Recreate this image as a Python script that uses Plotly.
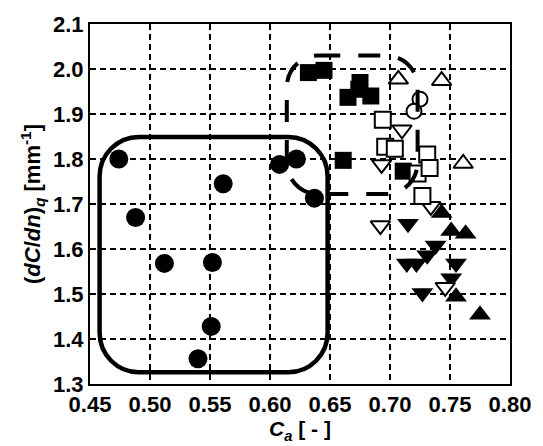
import plotly.graph_objects as go

# ---- data (Ca, (dC/dn)q) ----
fc_x = [0.474, 0.561, 0.488, 0.512, 0.552, 0.551, 0.540, 0.622, 0.608, 0.637]
fc_y = [1.800, 1.745, 1.670, 1.568, 1.570, 1.428, 1.356, 1.800, 1.788, 1.713]

fs_x = [0.632, 0.645, 0.675, 0.665, 0.684, 0.674, 0.661, 0.711]
fs_y = [1.992, 1.997, 1.970, 1.937, 1.940, 1.955, 1.797, 1.773]

otu_x = [0.707, 0.743, 0.761]
otu_y = [1.977, 1.974, 1.790]

oc_x = [0.725, 0.720]
oc_y = [1.933, 1.906]

os_x = [0.694, 0.696, 0.704, 0.731, 0.723, 0.727, 0.733]
os_y = [1.887, 1.827, 1.823, 1.810, 1.768, 1.718, 1.780]

otd_x = [0.710, 0.693, 0.734, 0.692, 0.746]
otd_y = [1.865, 1.788, 1.695, 1.652, 1.515]

ftd_x = [0.715, 0.738, 0.731, 0.714, 0.722, 0.755, 0.751, 0.727]
ftd_y = [1.656, 1.608, 1.586, 1.568, 1.568, 1.568, 1.535, 1.502]

ftu_x = [0.743, 0.751, 0.763, 0.755, 0.775]
ftu_y = [1.680, 1.640, 1.634, 1.494, 1.454]

x_ticks = [0.45, 0.50, 0.55, 0.60, 0.65, 0.70, 0.75, 0.80]
y_ticks = [1.3, 1.4, 1.5, 1.6, 1.7, 1.8, 1.9, 2.0, 2.1]

# grouping boxes (data extents)
solid_box = dict(x0=0.458, x1=0.648, y0=1.326, y1=1.849, r=40)
dashed_box = dict(x0=0.614, x1=0.723, y0=1.722, y1=2.030, r=32)

W, H = 543, 446
M = dict(l=90, r=26, t=21, b=61)
XR = [0.45, 0.80]
YR = [1.3, 2.1]
pw = W - M["l"] - M["r"]
ph = H - M["t"] - M["b"]
sx = pw / (XR[1] - XR[0])
sy = ph / (YR[1] - YR[0])


def rounded_path(b):
    x0, x1, y0, y1, r = b["x0"], b["x1"], b["y0"], b["y1"], b["r"]
    rx, ry = r / sx, r / sy
    k = 0.5523
    p = f"M {x0+rx},{y1} L {x1-rx},{y1} "
    p += f"C {x1-rx+k*rx},{y1} {x1},{y1-ry+k*ry} {x1},{y1-ry} "
    p += f"L {x1},{y0+ry} "
    p += f"C {x1},{y0+ry-k*ry} {x1-rx+k*rx},{y0} {x1-rx},{y0} "
    p += f"L {x0+rx},{y0} "
    p += f"C {x0+rx-k*rx},{y0} {x0},{y0+ry-k*ry} {x0},{y0+ry} "
    p += f"L {x0},{y1-ry} "
    p += f"C {x0},{y1-ry+k*ry} {x0+rx-k*rx},{y1} {x0+rx},{y1} Z"
    return p


fig = go.Figure()

def add(xs, ys, symbol, size, fill, lw=2):
    fig.add_trace(go.Scatter(
        x=xs, y=ys, mode="markers", showlegend=False,
        marker=dict(symbol=symbol, size=size, color=fill,
                    line=dict(color="black", width=lw))))

add(fc_x, fc_y, "circle", 19, "black", 0)
add(fs_x, fs_y, "square", 17, "black", 0)
add(ftd_x, ftd_y, "triangle-down", 19, "black", 0)
add(ftu_x, ftu_y, "triangle-up", 19, "black", 0)
add(otd_x, otd_y, "triangle-down", 17, "white", 2)
add(os_x, os_y, "square", 16, "white", 2)
add(otu_x, otu_y, "triangle-up", 17, "white", 2)
add(oc_x, oc_y, "circle", 15, "white", 2)

fig.add_shape(type="path", path=rounded_path(solid_box), xref="x", yref="y",
              line=dict(color="black", width=4.5), layer="above")
fig.add_shape(type="path", path=rounded_path(dashed_box), xref="x", yref="y",
              line=dict(color="black", width=4, dash="22px,18px"), layer="above")

font = "Liberation Sans, Arial, sans-serif"
axis_common = dict(showline=True, linecolor="black", linewidth=2, mirror=True,
                   showgrid=True, gridcolor="black", gridwidth=1.8,
                   griddash="6px,4px", zeroline=False, ticks="",
                   tickfont=dict(family=font, size=22, color="black",
                                 weight="bold"))

fig.update_xaxes(range=XR, tickvals=x_ticks,
                 ticktext=[f"{v:.2f}" for v in x_ticks],
                 title=dict(text="<i>C</i><sub><i>a</i></sub> [ - ]",
                            font=dict(family=font, size=21, color="black",
                                      weight="bold"),
                            standoff=2),
                 **axis_common)
fig.update_yaxes(range=YR, tickvals=y_ticks,
                 ticktext=[f"{v:.1f}" for v in y_ticks],
                 title=dict(text="(<i>dC</i>/<i>dn</i>)<sub><i>q</i></sub> [mm<sup>-1</sup>]",
                            font=dict(family=font, size=22, color="black",
                                      weight="bold"),
                            standoff=6),
                 **axis_common)

fig.update_layout(width=W, height=H, margin=M, plot_bgcolor="white",
                  paper_bgcolor="white")
fig.write_html("out.html")
